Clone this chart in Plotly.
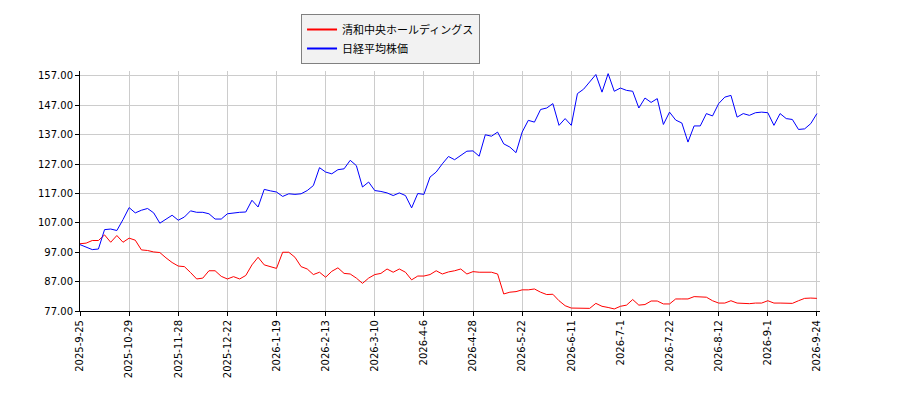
import plotly.graph_objects as go

# tick labels (dates) placed every 8 samples
TICK_DATES = ['2025-9-25', '2025-10-29', '2025-11-28', '2025-12-22', '2026-1-19',
              '2026-2-13', '2026-3-10', '2026-4-6', '2026-4-28', '2026-5-22',
              '2026-6-11', '2026-7-1', '2026-7-22', '2026-8-12', '2026-9-1',
              '2026-9-24']
STEP = 8

seiwa = [99.9, 100.1, 101.0, 101.0, 102.9, 100.4, 102.7, 100.4, 101.8, 101.1,
         97.8, 97.6, 97.1, 96.9, 95.1, 93.5, 92.3, 92.1, 90.1, 87.9,
         88.2, 90.7, 90.7, 88.8, 87.9, 88.7, 87.9, 89.1, 92.7, 95.3,
         92.7, 92.0, 91.5, 97.0, 97.0, 95.3, 92.1, 91.3, 89.4, 90.2,
         88.5, 90.5, 91.7, 89.8, 89.6, 88.2, 86.4, 88.2, 89.4, 89.8,
         91.3, 90.2, 91.3, 90.2, 87.6, 88.9, 88.9, 89.4, 90.7, 89.6,
         90.3, 90.7, 91.3, 89.6, 90.4, 90.2, 90.2, 90.2, 89.6, 82.8,
         83.4, 83.6, 84.2, 84.2, 84.5, 83.4, 82.6, 82.7, 80.5, 78.8,
         78.0, 78.0, 77.9, 77.9, 79.6, 78.6, 78.2, 77.7, 78.6, 79.0,
         80.9, 79.0, 79.2, 80.4, 80.4, 79.4, 79.4, 81.1, 81.1, 81.1,
         81.9, 81.9, 81.7, 80.5, 79.7, 79.7, 80.5, 79.7, 79.5, 79.5,
         79.7, 79.7, 80.5, 79.7, 79.7, 79.6, 79.6, 80.5, 81.3, 81.4,
         81.3]

nikkei = [99.6, 98.7, 97.9, 98.1, 104.7, 104.9, 104.4, 108.1, 112.2, 110.4,
          111.3, 111.9, 110.4, 106.9, 108.4, 109.6, 107.9, 109.0, 111.1, 110.6,
          110.6, 110.1, 108.3, 108.3, 110.1, 110.4, 110.6, 110.7, 114.7, 112.4,
          118.4, 117.9, 117.5, 116.0, 116.9, 116.7, 116.9, 118.0, 119.7, 125.8,
          124.3, 123.7, 125.1, 125.4, 128.3, 126.5, 119.2, 120.9, 118.0, 117.7,
          117.2, 116.3, 117.2, 116.3, 112.1, 117.0, 116.7, 122.6, 124.3, 127.1,
          129.6, 128.5, 130.0, 131.4, 131.5, 129.7, 137.0, 136.5, 137.9, 133.9,
          132.8, 130.9, 137.9, 141.9, 141.3, 145.6, 146.1, 147.6, 140.2, 142.5,
          140.2, 151.0, 152.5, 155.2, 157.5, 151.5, 157.8, 151.8, 152.9, 152.1,
          151.8, 146.1, 149.5, 148.0, 149.3, 140.5, 144.7, 142.0, 141.0, 134.5,
          140.0, 140.0, 144.2, 143.4, 147.6, 149.8, 150.4, 143.0, 144.2, 143.6,
          144.5, 144.7, 144.5, 140.2, 144.2, 142.5, 142.2, 138.8, 139.0, 140.8,
          144.2]

Y_TICKS = [77, 87, 97, 107, 117, 127, 137, 147, 157]

SERIES = [('清和中央ホールディングス', seiwa, '#ff0000'),
          ('日経平均株価', nikkei, '#0000ff')]

x = list(range(len(seiwa)))

fig = go.Figure()
for name, values, color in SERIES:
    fig.add_trace(go.Scatter(x=x, y=values, mode='lines', name=name,
                             line=dict(color=color, width=1), showlegend=False))
# legend-only entries so the legend swatches can be drawn thicker
for name, values, color in SERIES:
    fig.add_trace(go.Scatter(x=[None], y=[None], mode='lines', name=name,
                             line=dict(color=color, width=2)))

# the page body has an 8px margin, so the figure is shifted a little up/left
fig.update_layout(
    width=900, height=400,
    margin=dict(l=72, r=88, t=63, b=97, autoexpand=False),
    paper_bgcolor='white', plot_bgcolor='white',
    font=dict(family='DejaVu Sans', size=10, color='#000000'),
    legend=dict(xref='container', yref='container',
                x=0.3256, y=0.985, xanchor='left', yanchor='top',
                bgcolor='#f2f2f2', bordercolor='#808080', borderwidth=1,
                font=dict(family='Noto Sans CJK JP', size=11),
                itemwidth=30, tracegroupgap=0),
    showlegend=True,
)
fig.update_xaxes(
    range=[0, len(x) - 0.5],
    tickmode='array',
    tickvals=[i * STEP for i in range(len(TICK_DATES))],
    ticktext=TICK_DATES,
    tickangle=-90,
    showgrid=True, gridcolor='#cccccc', gridwidth=1,
    showline=True, linecolor='#000000', linewidth=1,
    ticks='outside', ticklen=4, tickcolor='#000000',
    zeroline=False, automargin=False,
)
fig.update_yaxes(
    range=[77, 158.7],
    tickmode='array',
    tickvals=Y_TICKS,
    tickformat='.2f',
    showgrid=True, gridcolor='#cccccc', gridwidth=1,
    showline=True, linecolor='#000000', linewidth=1,
    ticks='outside', ticklen=4, tickcolor='#000000',
    zeroline=False, automargin=False,
)

fig.write_html('out.html')
